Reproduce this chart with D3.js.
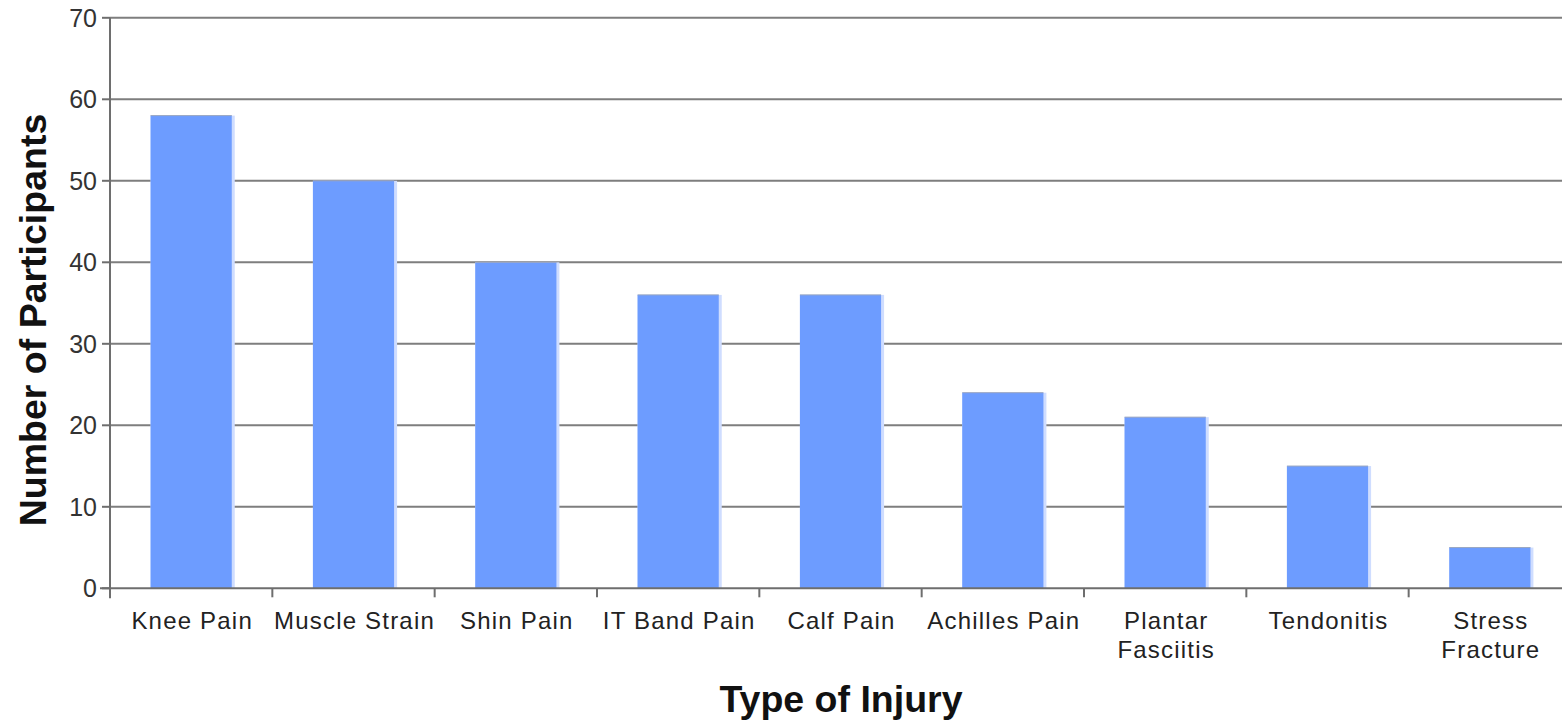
<!DOCTYPE html>
<html>
<head>
<meta charset="utf-8">
<script src="https://cdn.jsdelivr.net/npm/d3@7"></script>
<style>
  html, body { margin: 0; padding: 0; background: #fff; }
  svg { display: block; }
  text { font-family: "Liberation Sans", Arial, sans-serif; }
</style>
</head>
<body>
<svg id="chart" width="1562" height="721"></svg>
<script>
// Injury counts by type
const categories = [
  ["Knee Pain"], ["Muscle Strain"], ["Shin Pain"], ["IT Band Pain"], ["Calf Pain"],
  ["Achilles Pain"], ["Plantar", "Fasciitis"], ["Tendonitis"], ["Stress", "Fracture"]
];
const participants = [58, 50, 40, 36, 36, 24, 21, 15, 5];
const yTicks = [0, 10, 20, 30, 40, 50, 60, 70];

const svg = d3.select("#chart");
const plotLeft = 110, plotRight = 1571, plotTop = 17.8, plotBottom = 588.3;
const keys = categories.map(c => c.join(" "));

const x = d3.scaleBand().domain(keys).range([plotLeft, plotRight])
  .paddingInner(0.5).paddingOuter(0.25);
const y = d3.scaleLinear().domain([0, 70]).range([plotBottom, plotTop]);
const step = x.step();

// horizontal gridlines
svg.append("g").selectAll("line").data(yTicks.slice(1)).join("line")
  .attr("x1", plotLeft).attr("x2", 1562)
  .attr("y1", d => y(d)).attr("y2", d => y(d))
  .attr("stroke", "#7e7e7e").attr("stroke-width", 2);

// bars
const bars = svg.append("g");
bars.selectAll("rect.edge").data(participants).join("rect")
  .attr("class", "edge")
  .attr("x", (d, i) => x(keys[i]))
  .attr("y", d => y(d))
  .attr("width", x.bandwidth() + 3)
  .attr("height", d => plotBottom - y(d))
  .attr("fill", "#cfddff");
bars.selectAll("rect.bar").data(participants).join("rect")
  .attr("class", "bar")
  .attr("x", (d, i) => x(keys[i]))
  .attr("y", d => y(d))
  .attr("width", x.bandwidth())
  .attr("height", d => plotBottom - y(d))
  .attr("fill", "#6d9cff");
bars.selectAll("line").data(participants).join("line")
  .attr("x1", (d, i) => x(keys[i]))
  .attr("x2", (d, i) => x(keys[i]) + x.bandwidth())
  .attr("y1", d => y(d)).attr("y2", d => y(d))
  .attr("stroke", "#9aa6c0").attr("stroke-width", 1);

// axes
const axis = svg.append("g").attr("stroke", "#6e6e6e").attr("stroke-width", 2);
axis.append("line").attr("x1", plotLeft).attr("x2", plotLeft).attr("y1", plotTop).attr("y2", plotBottom + 10);
axis.append("line").attr("x1", plotLeft - 10).attr("x2", 1562).attr("y1", plotBottom).attr("y2", plotBottom);
axis.selectAll("line.yt").data(yTicks).join("line").attr("class", "yt")
  .attr("x1", plotLeft - 8).attr("x2", plotLeft)
  .attr("y1", d => y(d)).attr("y2", d => y(d));
axis.selectAll("line.xt").data(d3.range(1, keys.length)).join("line").attr("class", "xt")
  .attr("x1", i => plotLeft + i * step).attr("x2", i => plotLeft + i * step)
  .attr("y1", plotBottom).attr("y2", plotBottom + 9);

// y tick labels
svg.append("g").selectAll("text").data(yTicks).join("text")
  .attr("x", 97).attr("y", d => y(d) + 9)
  .attr("text-anchor", "end")
  .attr("font-size", 25).attr("fill", "#333")
  .text(d => d);

// x tick labels
const xl = svg.append("g").selectAll("text").data(categories).join("text")
  .attr("text-anchor", "middle")
  .attr("font-size", 24).attr("fill", "#222")
  .style("letter-spacing", "1.2px")
  .attr("transform", (d, i) => `translate(${x(keys[i]) + x.bandwidth() / 2 + 1},629)`);
xl.selectAll("tspan").data(d => d).join("tspan")
  .attr("x", 0).attr("dy", (d, i) => i === 0 ? 0 : 29)
  .text(d => d);

// axis titles
svg.append("text")
  .attr("x", 841).attr("y", 712)
  .attr("text-anchor", "middle")
  .attr("font-size", 37.5).attr("font-weight", "bold").attr("fill", "#111")
  .text("Type of Injury");

svg.append("text")
  .attr("transform", "translate(46,320) rotate(-90)")
  .attr("text-anchor", "middle")
  .attr("font-size", 37.5).attr("font-weight", "bold").attr("fill", "#111")
  .text("Number of Participants");
</script>
</body>
</html>
